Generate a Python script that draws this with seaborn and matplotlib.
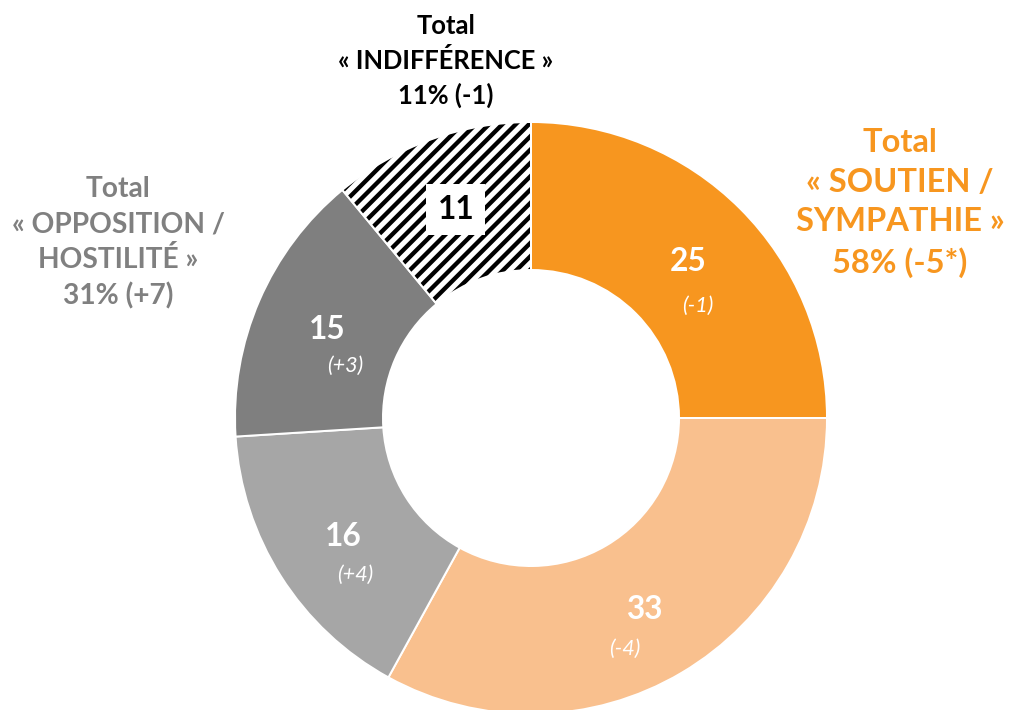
import matplotlib
matplotlib.use("Agg")
import matplotlib.pyplot as plt
from matplotlib.patches import Wedge
import numpy as np
import seaborn as sns

# data
labels = ["Soutien", "Sympathie", "Opposition", "Hostilité", "Indifférence"]
values = [25, 33, 16, 15, 11]
deltas = ["(-1)", "(-4)", "(+4)", "(+3)", ""]
colors = ["#F7961F", "#F9C08E", "#A6A6A6", "#7F7F7F", "white"]

total_texts = [
    "Total\n« SOUTIEN /\nSYMPATHIE »\n58% (-5*)",
    "Total\n« OPPOSITION /\nHOSTILITÉ »\n31% (+7)",
    "Total\n« INDIFFÉRENCE »\n11% (-1)",
]
total_colors = ["#F7961F", "#808080", "black"]

sns.set_theme(style="white")
plt.rcParams["font.family"] = ["Lato", "DejaVu Sans"]
plt.rcParams["hatch.linewidth"] = 2.6

fig = plt.figure(figsize=(1011 / 120, 710 / 120), dpi=120)
ax = fig.add_axes([0, 0, 1, 1])

wedges, _ = ax.pie(values, colors=colors, startangle=90, counterclock=False,
                   radius=1, wedgeprops=dict(width=0.5, edgecolor="white", linewidth=1.2))

# hatched slice (indifference)
hw = wedges[-1]
hw.set_edgecolor("black")
hw.set_linewidth(0)
hw.set_hatch("///")
ax.add_patch(Wedge(hw.center, hw.r, hw.theta1, hw.theta2, width=hw.width,
                   fill=False, edgecolor="white", linewidth=1.2))

# slice labels
delta_off = [(10, -45), (-19, -40), (12, -38), (18, -36), (0, 0)]
for w, v, d, off in zip(wedges, values, deltas, delta_off):
    ang = np.deg2rad((w.theta1 + w.theta2) / 2)
    x, y = 0.75 * np.cos(ang), 0.75 * np.sin(ang)
    if d:
        ax.text(x, y, str(v), ha="center", va="center", fontsize=19,
                fontweight="bold", color="white")
        ax.annotate(d, (x, y), xytext=off, textcoords="offset pixels",
                    ha="center", va="center", fontsize=13, style="italic",
                    color="white")
    else:
        ax.text(x, y, str(v), ha="center", va="center", fontsize=19,
                fontweight="bold", color="black",
                bbox=dict(boxstyle="square,pad=0.35", fc="white", ec="none"))

# group totals
ax.text(1.247, 0.726, total_texts[0], ha="center", va="center", fontsize=19.6,
        fontweight="bold", color=total_colors[0], linespacing=1.44)
ax.text(-1.395, 0.591, total_texts[1], ha="center", va="center", fontsize=16.9,
        fontweight="bold", color=total_colors[1], linespacing=1.42)
ax.text(-0.287, 1.206, total_texts[2], ha="center", va="center", fontsize=15.3,
        fontweight="bold", color=total_colors[2], linespacing=1.47)

ax.set_xlim(-531 / 296, 480 / 296)
ax.set_ylim(-292 / 296, 418 / 296)
ax.axis("off")

fig.savefig("out.png", dpi=120)
